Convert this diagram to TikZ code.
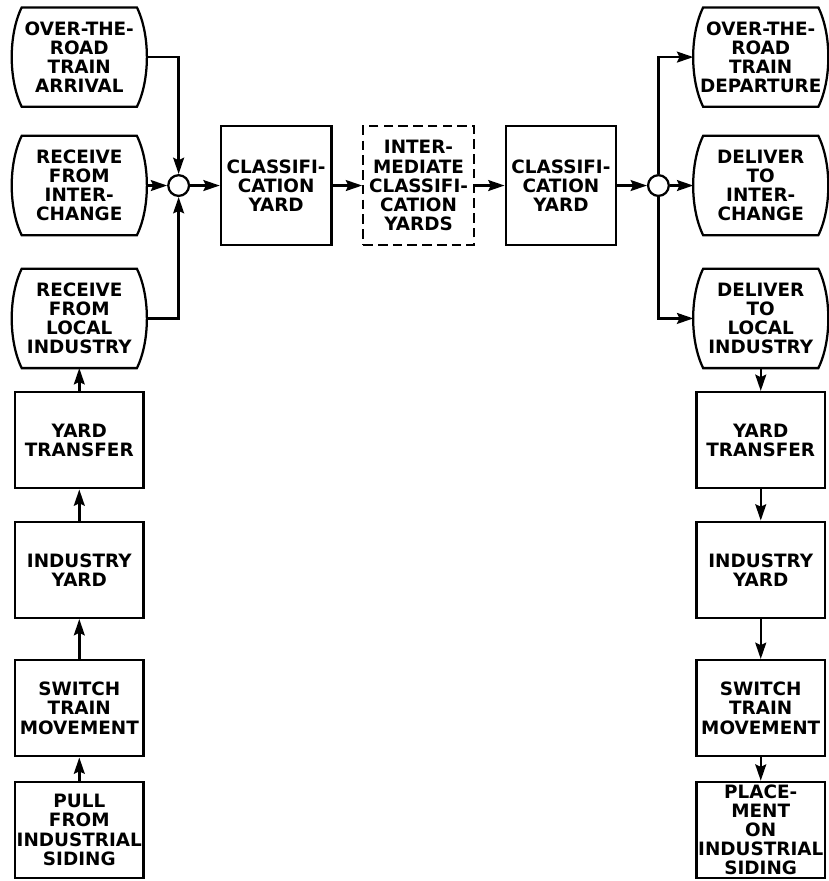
\documentclass[tikz,border=0pt]{standalone}
\usepackage{fontspec}
\setmainfont{DejaVu Sans}
\usepackage{tikz}
\usetikzlibrary{matrix}
\usetikzlibrary{arrows.meta}
\usetikzlibrary{calc}
\usetikzlibrary{positioning}

\begin{document}
\begin{tikzpicture}[scale=1, auto, >={Stealth[length=3.3mm,width=2.2mm,inset=0.5mm]}]
    \fontsize{10.6}{11}\selectfont\bfseries

    % TikZ styles for drawing %%%%%%%%%%%%%%%%%%%%%%%%%%%%%%%%%%%%%%%%%%%%%%%%%%%%%%
    \tikzstyle{block} = [draw,rectangle,line width=1.3pt,align=center,minimum height=1.95cm,minimum width=2.6cm]
    \tikzstyle{yard} = [draw,rectangle,line width=1.3pt,align=center,minimum height=2.4cm,minimum width=2.24cm]
    \tikzstyle{future} = [yard,dash pattern=on 5.5pt off 3pt]
    \tikzstyle{terminal} = [rectangle,align=center,inner xsep=0pt,minimum height=2cm,minimum width=2.72cm]
    \tikzstyle{sum} = [draw,circle,line width=1.3pt,inner sep=0mm,minimum size=4.2mm]
    \tikzstyle{connector} = [->,line width=1.4pt]
    \tikzstyle{line} = [line width=1.3pt]

    % Node placement with matrix library (7x7 array) %%%%%%%%%%%%%%%%%%%%%%%%%%%%%%%%%%%%
    \matrix (m) [ampersand replacement=\&, inner sep=0pt, row sep=0.47cm, column sep=0.6cm] {

      % row 1
      \node[terminal] (arrival) {OVER-THE-\\ROAD\\TRAIN\\ARRIVAL}; \&[-0.18cm]
      \& \& \& \& \&[-0.12cm]
      \node[terminal] (departure) {OVER-THE-\\ROAD\\TRAIN\\DEPARTURE};
      \\[-0.09cm]

      % row 2
      \node[terminal] (interin) {RECEIVE\\FROM\\INTER-\\CHANGE}; \&
      \node[sum] (jin) {}; \&
      \node[yard] (classin) {CLASSIFI-\\CATION\\YARD}; \&
      \node[future] (interm) {INTER-\\MEDIATE\\CLASSIFI-\\CATION\\YARDS}; \&
      \node[yard] (classout) {CLASSIFI-\\CATION\\YARD}; \&
      \node[sum] (jout) {}; \&
      \node[terminal] (interout) {DELIVER\\TO\\INTER-\\CHANGE};
      \\

      % row 3
      \node[terminal] (localin) {RECEIVE\\FROM\\LOCAL\\INDUSTRY}; \&
      \& \& \& \& \&
      \node[terminal] (localout) {DELIVER\\TO\\LOCAL\\INDUSTRY};
      \\

      % row 4
      \node[block] (transin) {YARD\\TRANSFER}; \&
      \& \& \& \& \&
      \node[block] (transout) {YARD\\TRANSFER};
      \\[0.16cm]

      % row 5
      \node[block] (indin) {INDUSTRY\\YARD}; \&
      \& \& \& \& \&
      \node[block] (indout) {INDUSTRY\\YARD};
      \\[0.34cm]

      % row 6
      \node[block] (switchin) {SWITCH\\TRAIN\\MOVEMENT}; \&
      \& \& \& \& \&
      \node[block] (switchout) {SWITCH\\TRAIN\\MOVEMENT};
      \\

      % row 7
      \node[block] (pull) {PULL\\FROM\\INDUSTRIAL\\SIDING}; \&
      \& \& \& \& \&
      \node[block] (place) {PLACE-\\MENT\\ON\\INDUSTRIAL\\SIDING};
      \\
    };

    \useasboundingbox ($(m.north west)+(-0.24cm,0.15cm)$) rectangle ($(m.south east)+(0.01cm,-0.03cm)$);

    % Terminal outlines %%%%%%%%%%%%%%%%%%%%%%%%%%%%%%%%%%%%%%%%%%%%%%%%%%%%%%%%%%%%%%%%%
    \foreach \t in {arrival, interin, localin, departure, interout, localout}
      \draw [line] ([xshift=2mm]\t.north west) -- ([xshift=-2mm]\t.north east)
        .. controls +(2.7mm,-5.5mm) and +(2.7mm,5.5mm) .. ([xshift=-2mm]\t.south east)
        -- ([xshift=2mm]\t.south west)
        .. controls +(-2.7mm,5.5mm) and +(-2.7mm,-5.5mm) .. cycle;

    % Now link the nodes %%%%%%%%%%%%%%%%%%%%%%%%%%%%%%%%%%%%%%%%%%%%%%%%%%%%%%%%%%%%%%%%
    \draw [connector] (arrival) -| (jin);
    \draw [connector] (interin) -- (jin);
    \draw [connector] (localin) -| (jin);
    \draw [connector] (jin) -- (classin);
    \draw [connector] (classin) -- (interm);
    \draw [connector] (interm) -- (classout);
    \draw [connector] (classout) -- (jout);
    \draw [connector] (jout) |- (departure);
    \draw [connector] (jout) -- (interout);
    \draw [connector] (jout) |- (localout);

    \draw [connector] (pull) -- (switchin);
    \draw [connector] (switchin) -- (indin);
    \draw [connector] (indin) -- (transin);
    \draw [connector] (transin) -- (localin);

    \draw [connector] (localout) -- (transout);
    \draw [connector] (transout) -- (indout);
    \draw [connector] (indout) -- (switchout);
    \draw [connector] (switchout) -- (place);

\end{tikzpicture}
\end{document}
